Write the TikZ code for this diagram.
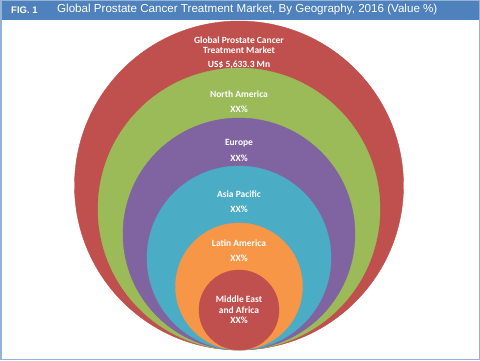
\documentclass[tikz,border=0pt]{standalone}
\usepackage{fontspec}
\setmainfont{Carlito}
\newfontfamily\arialfont{Liberation Sans}
\usetikzlibrary{positioning}
\definecolor{hdrblue}{HTML}{4F81BD}
\definecolor{frameblue}{HTML}{95B3D7}
\definecolor{ringred}{HTML}{C0504D}
\definecolor{ringgreen}{HTML}{9BBB59}
\definecolor{ringpurple}{HTML}{8064A2}
\definecolor{ringblue}{HTML}{4BACC6}
\definecolor{ringorange}{HTML}{F79646}
\begin{document}
\begin{tikzpicture}[x=1pt,y=-1pt,
  lbl/.style={text=white,font=\bfseries\fontsize{9.5}{10.5}\selectfont,align=center,inner sep=0pt},
  hdr/.style={text=white,font=\arialfont\fontsize{11.6}{12}\selectfont,anchor=west,inner sep=0pt}]

\useasboundingbox (0,0) rectangle (480,361);
\fill[white] (0,0) rectangle (480,361);

% nested rings, all touching at the bottom
\filldraw[fill=ringred, draw=ringred] (239,185.5) circle (164.5);
\filldraw[fill=ringgreen, draw=ringgreen] (239,209) circle (141);
\filldraw[fill=ringpurple, draw=ringpurple] (239,234) circle (116);
\filldraw[fill=ringblue, draw=ringblue] (239,258) circle (92);
\filldraw[fill=ringorange, draw=ringorange] (239,286.5) circle (63.5);
\filldraw[fill=ringred, draw=ringred] (239,310) circle (40);

% header
\fill[hdrblue] (0,0) rectangle (480,20);
\node [hdr,font=\arialfont\bfseries\fontsize{9.5}{10}\selectfont] (fig) at (11,10) {FIG. 1};
\node [hdr] (title) at (57,10) {Global Prostate Cancer Treatment Market, By Geography, 2016 (Value \%)};
\draw[frameblue, line width=1.5pt] (0.75,0.75) rectangle (479.25,359.5);

% labels
\node [lbl] (glob) at (239,45) {Global Prostate Cancer\\Treatment Market};
\node [lbl] (globval) at (239,65) {US\$ 5,633.3 Mn};
\node [lbl] (na) at (239,94) {North America};
\node [lbl] (naval) at (239,109) {XX\%};
\node [lbl] (eu) at (239,143) {Europe};
\node [lbl] (euval) at (239,158) {XX\%};
\node [lbl] (ap) at (239,194) {Asia Pacific};
\node [lbl] (apval) at (239,209) {XX\%};
\node [lbl] (la) at (239,243) {Latin America};
\node [lbl] (laval) at (239,258) {XX\%};
\node [lbl] (mea) at (239,310) {Middle East\\and Africa\\XX\%};

\end{tikzpicture}
\end{document}
